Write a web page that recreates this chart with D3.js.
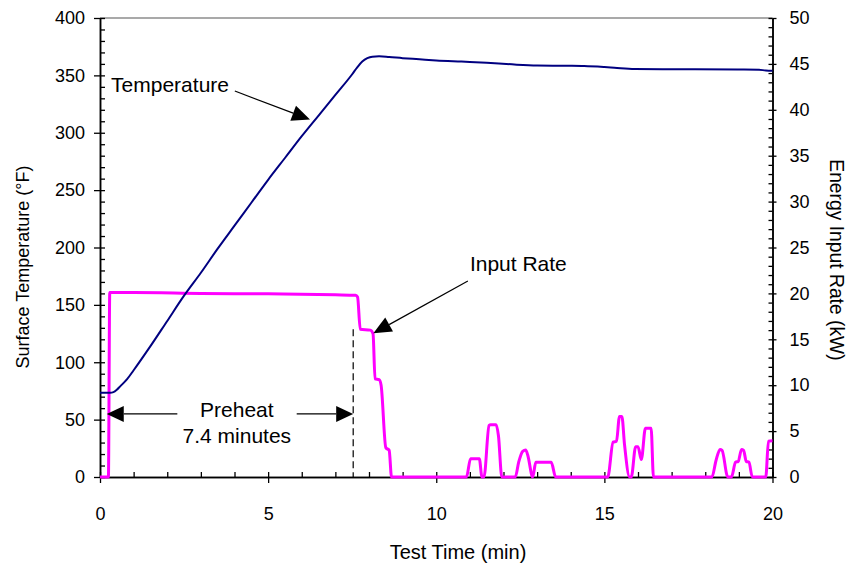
<!DOCTYPE html>
<html>
<head>
<meta charset="utf-8">
<script src="https://cdn.jsdelivr.net/npm/d3@7"></script>
<style>
  html, body { margin: 0; padding: 0; background: #fff; }
  svg { display: block; font-family: "Liberation Sans", Arial, sans-serif; }
</style>
</head>
<body>
<svg id="chart" width="853" height="569"></svg>
<script>
// ---- Data ----
const tempTime = [0, 0.3, 0.4, 0.5, 0.6, 0.8, 1.0, 1.5, 2.0, 2.5, 3.0, 3.5, 4.0, 4.5, 5.0, 5.5, 6.0, 6.5, 7.0, 7.5, 7.65, 7.8, 7.95, 8.1, 8.3, 8.6, 9.0, 9.5, 10.0, 10.75, 11.5, 12.25, 13.0, 13.9, 14.4, 15.0, 15.3, 15.9, 17.0, 17.7, 19.0, 19.6, 19.8, 20.0];
const tempF    = [73.5, 73.5, 74, 76, 79, 85, 93, 114, 136, 158, 178, 199, 219, 239, 259, 278, 297, 315, 333, 351, 357, 362, 365, 366.3, 366.6, 366, 365, 364, 363, 362, 361, 359.6, 358.6, 358.4, 358.2, 357.3, 356.7, 355.6, 355.4, 355.3, 355.1, 355, 354.2, 354];

const rateTime = [0, 0.25, 0.29, 1.0, 3.0, 5.0, 7.0, 7.6, 7.66, 7.74, 8.04, 8.12, 8.18, 8.3, 8.36, 8.5, 8.6, 8.67,
  10.9, 11.02, 11.28, 11.36, 11.42, 11.57, 11.62, 11.78, 11.85, 11.95,
  12.35, 12.45, 12.57, 12.66, 12.72, 12.87, 12.96, 13.42, 13.55,
  15.1, 15.26, 15.36, 15.45, 15.52, 15.6, 15.75, 15.8, 15.93, 16.0, 16.1, 16.22, 16.39, 16.46,
  18.2, 18.32, 18.44, 18.5, 18.67, 18.78, 18.9, 18.98, 19.08, 19.14, 19.22, 19.3, 19.4,
  19.8, 19.88, 20.0];
const rateKW = [0, 0, 20.1, 20.1, 20.0, 19.95, 19.85, 19.8, 19.6, 16.1, 16.0, 15.6, 10.7, 10.6, 10.0, 3.2, 2.9, 0,
  0, 2.0, 2.0, 0, 0, 5.6, 5.7, 5.7, 4.5, 0,
  0, 1.6, 2.8, 2.95, 2.4, 0, 1.6, 1.6, 0,
  0, 3.8, 3.9, 6.6, 6.6, 3.5, 0, 0, 3.3, 3.3, 1.9, 5.3, 5.3, 0,
  0, 1.8, 3.0, 2.9, 0, 0, 1.6, 1.7, 3.0, 2.9, 1.7, 1.6, 0,
  0, 3.9, 3.95];

const xTicks = [0, 5, 10, 15, 20];
const yLeftTicks = [0, 50, 100, 150, 200, 250, 300, 350, 400];
const yRightTicks = [0, 5, 10, 15, 20, 25, 30, 35, 40, 45, 50];

const preheatStart = 0.2;   // min
const preheatEnd = 7.53;    // min
const preheatArrowTemp = 55; // °F level of the double arrow

// ---- Scales ----
const svg = d3.select("#chart");
const x = d3.scaleLinear().domain([0, 20]).range([100, 772.5]);
const yL = d3.scaleLinear().domain([0, 400]).range([477, 18]);
const yR = d3.scaleLinear().domain([0, 50]).range([477, 18]);

// top border
svg.append("line").attr("x1", x(0)).attr("x2", x(20)).attr("y1", yL(400)).attr("y2", yL(400))
  .attr("stroke", "#8c8c8c").attr("stroke-width", 1.5);

function styleAxis(g, fs) {
  g.selectAll("path").attr("stroke", "#000").attr("stroke-width", 1.5);
  g.selectAll("line").attr("stroke", "#000").attr("stroke-width", 1.3);
  g.selectAll("text").attr("fill", "#000").style("font-size", fs + "px")
    .style("font-family", "'Liberation Sans', Arial, sans-serif");
}

// Left axis
const gL = svg.append("g").attr("transform", `translate(${x(0)},0)`)
  .call(d3.axisLeft(yL).tickValues(yLeftTicks).tickSize(6).tickPadding(9).tickSizeOuter(0));
styleAxis(gL, 18);
const gLm = svg.append("g").attr("transform", `translate(${x(0)},0)`)
  .call(d3.axisRight(yL).tickValues(d3.range(0, 401, 10)).tickSize(5).tickFormat("").tickSizeOuter(0));
styleAxis(gLm, 18);

// Right axis
const gR = svg.append("g").attr("transform", `translate(${x(20)},0)`)
  .call(d3.axisRight(yR).tickValues(yRightTicks).tickSize(4).tickPadding(13).tickSizeOuter(0));
styleAxis(gR, 18);
const gRm = svg.append("g").attr("transform", `translate(${x(20)},0)`)
  .call(d3.axisLeft(yR).tickValues(d3.range(0, 51, 1)).tickSize(4).tickFormat("").tickSizeOuter(0));
styleAxis(gRm, 18);

// Bottom axis
const gB = svg.append("g").attr("transform", `translate(0,${yL(0)})`)
  .call(d3.axisBottom(x).tickValues(xTicks).tickSize(6).tickPadding(24).tickSizeOuter(0));
styleAxis(gB, 18);
const gBm = svg.append("g").attr("transform", `translate(0,${yL(0)})`)
  .call(d3.axisTop(x).tickValues(d3.range(0, 21, 1)).tickSize(5).tickFormat("").tickSizeOuter(0));
styleAxis(gBm, 18);

// Axis titles
svg.append("text").attr("x", 458).attr("y", 559).attr("text-anchor", "middle")
  .style("font-size", "20px").text("Test Time (min)");
svg.append("text").attr("transform", "translate(29,267) rotate(-90)").attr("text-anchor", "middle")
  .style("font-size", "18px").text("Surface Temperature (°F)");
svg.append("text").attr("transform", "translate(830,260) rotate(90)").attr("text-anchor", "middle")
  .style("font-size", "19.3px").text("Energy Input Rate (kW)");

// Dashed preheat end line
svg.append("line").attr("x1", x(preheatEnd)).attr("x2", x(preheatEnd))
  .attr("y1", yR(16.1)).attr("y2", yR(0))
  .attr("stroke", "#000").attr("stroke-width", 1.2).attr("stroke-dasharray", "7,4");

// Series
const tempData = tempTime.map((t, i) => [t, tempF[i]]);
const rateData = rateTime.map((t, i) => [t, rateKW[i]]);

svg.append("path").datum(rateData)
  .attr("fill", "none").attr("stroke", "#ff00ff").attr("stroke-width", 3).attr("stroke-linejoin", "round")
  .attr("d", d3.line().x(d => x(d[0])).y(d => yR(d[1])).curve(d3.curveMonotoneX));

svg.append("path").datum(tempData)
  .attr("fill", "none").attr("stroke", "#000080").attr("stroke-width", 2)
  .attr("d", d3.line().x(d => x(d[0])).y(d => yL(d[1])).curve(d3.curveMonotoneX));

// Arrow helper
function arrow(x1, y1, x2, y2, L = 18, W = 8) {
  const dx = x2 - x1, dy = y2 - y1, len = Math.hypot(dx, dy);
  const ux = dx / len, uy = dy / len;
  const bx = x2 - ux * L, by = y2 - uy * L;
  svg.append("line").attr("x1", x1).attr("y1", y1).attr("x2", bx).attr("y2", by)
    .attr("stroke", "#000").attr("stroke-width", 1.2);
  svg.append("path")
    .attr("d", `M${x2},${y2}L${bx - uy * W},${by + ux * W}L${bx + uy * W},${by - ux * W}Z`)
    .attr("fill", "#000");
}

// Temperature annotation
svg.append("text").attr("x", x(0.33)).attr("y", yL(335.5)).style("font-size", "21px").text("Temperature");
arrow(x(4.01), yL(336.4), x(6.245), yL(311.5));

// Input rate annotation
svg.append("text").attr("x", x(11.0)).attr("y", yR(22.4)).style("font-size", "21px").text("Input Rate");
arrow(x(10.94), yR(21.35), x(8.13), yR(15.65));

// Preheat annotation
const yP = yL(preheatArrowTemp);
const midT = 4.07;
arrow(x(2.3), yP, x(preheatStart), yP, 17, 8);
arrow(x(5.85), yP, x(preheatEnd), yP, 17, 8);
svg.append("text").attr("x", x(midT)).attr("y", yL(52.7)).attr("text-anchor", "middle")
  .style("font-size", "21px").text("Preheat");
svg.append("text").attr("x", x(midT)).attr("y", yL(29.6)).attr("text-anchor", "middle")
  .style("font-size", "21px").text("7.4 minutes");
</script>
</body>
</html>
